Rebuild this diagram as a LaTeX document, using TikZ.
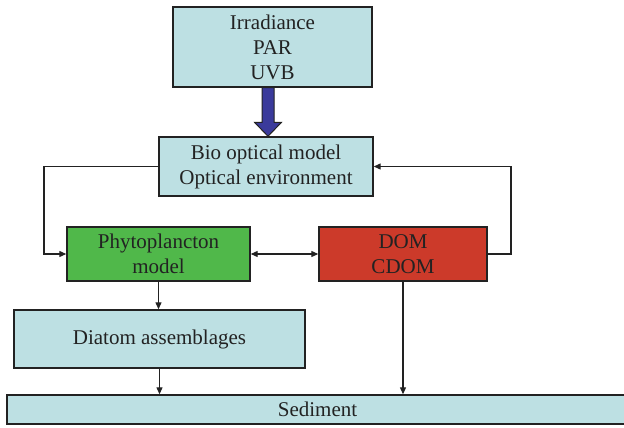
\documentclass[tikz,border=0pt]{standalone}
\usepackage{fontspec}
\setmainfont{Liberation Serif}
\usetikzlibrary{arrows.meta,calc}
\definecolor{lblue}{RGB}{189,224,227}
\definecolor{lgreen}{RGB}{80,184,74}
\definecolor{lred}{RGB}{204,58,42}
\definecolor{barrow}{RGB}{58,58,155}
\definecolor{edge}{RGB}{34,34,34}
\tikzset{
  box/.style={draw=edge, line width=1.4pt, inner sep=0pt, align=center,
    font=\fontsize{21}{25}\selectfont, text=edge},
  arr/.style={draw=edge, line width=1.2pt, -{Triangle[length=7pt,width=6pt]}},
  darr/.style={draw=edge, line width=1.2pt, {Triangle[length=7pt,width=6pt]}-{Triangle[length=7pt,width=6pt]}},
  blockarrow/.style={draw=edge, line width=1pt, fill=barrow, line join=miter}
}
\begin{document}
\begin{tikzpicture}[x=1pt,y=-1pt]
\useasboundingbox (0,0) rectangle (624,428);
\node[box, fill=lblue, minimum width=199pt, minimum height=80pt] (irr) at (272.5,47) {Irradiance\\PAR\\UVB};
\node[box, fill=lblue, minimum width=214pt, minimum height=59pt] (bio) at (266,166.5) {Bio optical model\\Optical environment};
\node[box, fill=lgreen, minimum width=183pt, minimum height=54pt] (phy) at (158.5,254) {Phytoplancton\\model};
\node[box, fill=lred, minimum width=168pt, minimum height=54pt] (dom) at (403,254) {DOM\\CDOM};
\node[box, fill=lblue, minimum width=291pt, minimum height=58pt] (dia) at (159.5,339) {Diatom assemblages};
\node[box, fill=lblue, minimum width=621pt, minimum height=29pt] (sed) at (317.5,409.5) {Sediment};
\coordinate (lx) at (44,0);
\coordinate (rx) at (511,0);
\coordinate (ax) at (268,0);
\coordinate (atop) at (irr.south -| ax);
\coordinate (atip) at (bio.north -| ax);
% block arrow
\draw[blockarrow] ($(atop)+(-6,0)$) -- ($(atip)+(-6,-14)$) -- ($(atip)+(-13.5,-14)$)
  -- (atip) -- ($(atip)+(13.5,-14)$) -- ($(atip)+(6,-14)$) -- ($(atop)+(6,0)$) -- cycle;
% connectors
\draw[arr] (bio.west) -- (bio.west -| lx) |- (phy.west);
\draw[arr] (dom.east) -- (dom.east -| rx) |- (bio.east);
\draw[darr] (phy.east) -- (dom.west);
\draw[arr] (phy.south) -- (phy.south |- dia.north);
\draw[arr] (dia.south) -- (dia.south |- sed.north);
\draw[arr] (dom.south) -- (dom.south |- sed.north);
\end{tikzpicture}
\end{document}
